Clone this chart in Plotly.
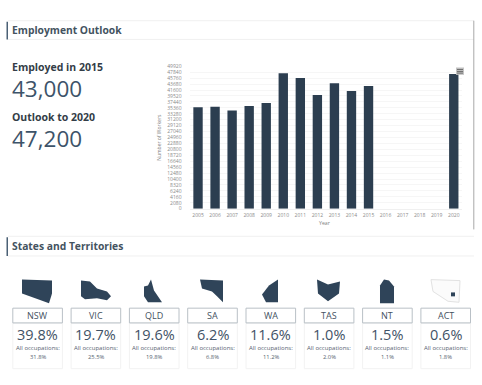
import plotly.graph_objects as go

W, H = 482, 385
years = [str(y) for y in range(2005, 2021)]
workers = [35540, 35770, 34390, 36000, 37040, 47500, 45780, 39900, 43940, 41300, 43000, None, None, None, None, 47200]
y_step = 2080
y_max = 49920

states = ["NSW", "VIC", "QLD", "SA", "WA", "TAS", "NT", "ACT"]
state_share = ["39.8%", "19.7%", "19.6%", "6.2%", "11.6%", "1.0%", "1.5%", "0.6%"]
all_occ = ["31.8%", "25.5%", "19.8%", "6.8%", "11.2%", "2.0%", "1.1%", "1.8%"]

section_titles = ["Employment Outlook", "States and Territories"]
kpi_labels = ["Employed in 2015", "Outlook to 2020"]
kpi_values = ["43,000", "47,200"]

DARK = "#2c3e50"
TXT = "#3f5266"
HEAD = "#44535f"


def px(x):
    return x / W


def py(y):
    return 1 - y / H


def poly(pts, fill=DARK, line=None, lw=0):
    p = "M " + " L ".join(f"{px(x):.5f},{py(y):.5f}" for x, y in pts) + " Z"
    return dict(type="path", xref="paper", yref="paper", path=p, fillcolor=fill,
                line=dict(color=line or fill, width=lw), layer="above")


def rect(x0, y0, x1, y1, fill="rgba(0,0,0,0)", line="#e6e8ea", lw=1):
    return dict(type="rect", xref="paper", yref="paper", x0=px(x0), x1=px(x1), y0=py(y0), y1=py(y1),
                fillcolor=fill, line=dict(color=line, width=lw), layer="below")


def hline(x0, x1, y, color="#f0f0f0", lw=1):
    return dict(type="line", xref="paper", yref="paper", x0=px(x0), x1=px(x1), y0=py(y), y1=py(y),
                line=dict(color=color, width=lw), layer="below")


def label(x, y, text, size, color=TXT, anchor="left", angle=0, weight=400):
    return dict(x=px(x), y=py(y), xref="paper", yref="paper", text=text, showarrow=False,
                xanchor=anchor, yanchor="middle", textangle=angle, borderpad=0, borderwidth=0,
                font=dict(family="Open Sans", size=size, color=color, weight=weight))


fig = go.Figure(go.Bar(x=years, y=workers, marker=dict(color=DARK, line=dict(width=0)), width=0.55))

shapes, notes = [], []

# section headers
for title, top, bottom in zip(section_titles, [19, 238], [37, 257]):
    shapes.append(rect(6.5, top, 8, bottom, fill="#4a6075", line="#4a6075", lw=0))
    shapes.append(hline(8, 474, bottom))
    shapes.append(hline(8, 474, top - 1))
    notes.append(label(12, (top + bottom) / 2 - 0.5, title, 10.3, HEAD, weight=700))

# KPI text
for lab, val, y1, y2 in zip(kpi_labels, kpi_values, [65.5, 115.7], [87, 138]):
    notes.append(label(12, y1, lab, 10.5, "#333d47", weight=700))
    notes.append(label(12, y2, val, 22.5, "#3d5369"))

# right-hand divider
shapes.append(dict(type="line", xref="paper", yref="paper", x0=px(473.8), x1=px(473.8), y0=py(18), y1=py(230),
                   line=dict(color="#a8a8a8", width=1), layer="below"))

# state cards
icons = [
    [(22, 281), (52, 282), (52, 295), (49, 305), (38, 301), (22, 295)],
    [(81, 282), (90, 283), (97, 290), (107, 293), (111, 298), (107, 302), (97, 300), (85, 301), (81, 298)],
    [(151, 281), (154, 292), (162, 304), (148, 304), (144, 298), (144, 288), (148, 287)],
    [(200, 281), (223, 282), (223, 304), (217, 298), (212, 293), (202, 290)],
    [(278, 281), (278, 304), (266, 304), (262, 296), (269, 287)],
    [(317, 281), (328, 286), (340, 283), (339, 295), (328, 303), (318, 295)],
    [(384, 281), (389, 282), (394, 288), (394, 305), (380, 305), (380, 287)],
]
for i, (s, share, occ) in enumerate(zip(states, state_share, all_occ)):
    x0 = 12.8 + 58.3 * i
    x1 = x0 + 49.6
    cx = (x0 + x1) / 2
    shapes.append(rect(x0, 325, x1, 371.5, line="#f2f2f2"))
    shapes.append(rect(x0, 310, x1, 325, line="#b9c0c6"))
    notes.append(label(cx, 317.5, s, 9, "#44525f", "center"))
    notes.append(label(cx, 337, share, 14.5, TXT, "center"))
    notes.append(label(cx, 350.5, "All occupations:", 6, "#56636f", "center"))
    notes.append(label(cx, 359.5, occ, 5.8, "#56636f", "center"))
    if i < len(icons):
        shapes.append(poly(icons[i], "#2f4459"))

# ACT icon
shapes.append(poly([(431, 281), (460, 282), (459, 304), (448, 303), (433, 293)], "#fbfbfb", "#e2e2e2", 1))
shapes.append(rect(451, 294, 455, 298, fill="#2f4459", line="#2f4459", lw=0) | {"layer": "above"})

# chart menu icon
shapes.append(rect(456, 65.5, 464, 73, fill="#c4c4c4", line="#c4c4c4", lw=0) | {"layer": "above"})
for yy in (67.5, 69.5, 71.2):
    shapes.append(hline(457, 463, yy, "#6b6b6b", 1) | {"layer": "above"})

tickvals = list(range(0, y_max + 1, y_step))
fig.update_layout(
    width=W, height=H, autosize=False, margin=dict(l=0, r=0, t=0, b=0),
    paper_bgcolor="white", plot_bgcolor="white", showlegend=False, bargap=0.45,
    xaxis=dict(domain=[px(189.5), px(462.3)], type="category", range=[-0.5, 15.5], anchor="y",
               tickfont=dict(family="Open Sans", size=5, color="#8a8a8a"), showgrid=False,
               showline=True, linecolor="#f0f0f0", ticks="", ticklen=0, tickangle=0,
               ticklabelstandoff=1,
               categoryorder="array", categoryarray=years, tickmode="array",
               tickvals=years, ticktext=years),
    yaxis=dict(domain=[py(209), py(64.3)], range=[0, y_max], tickmode="array", tickvals=tickvals,
               ticktext=[str(v) for v in tickvals], tickfont=dict(family="Open Sans", size=5, color="#8a8a8a"),
               gridcolor="#f6f6f6", gridwidth=1, zeroline=False, showline=False, ticks="",
               ticklabelstandoff=7),
    shapes=shapes,
    annotations=notes + [
        label(324.5, 223, "Year", 5.2, "#808080", "center"),
        label(159, 137, "Number of Workers", 5, "#808080", "center", angle=-90),
    ],
)
fig.write_html("out.html", config={"displayModeBar": False},
               post_script="document.documentElement.style.overflow='hidden';document.body.style.margin='0';document.body.style.padding='0';")
